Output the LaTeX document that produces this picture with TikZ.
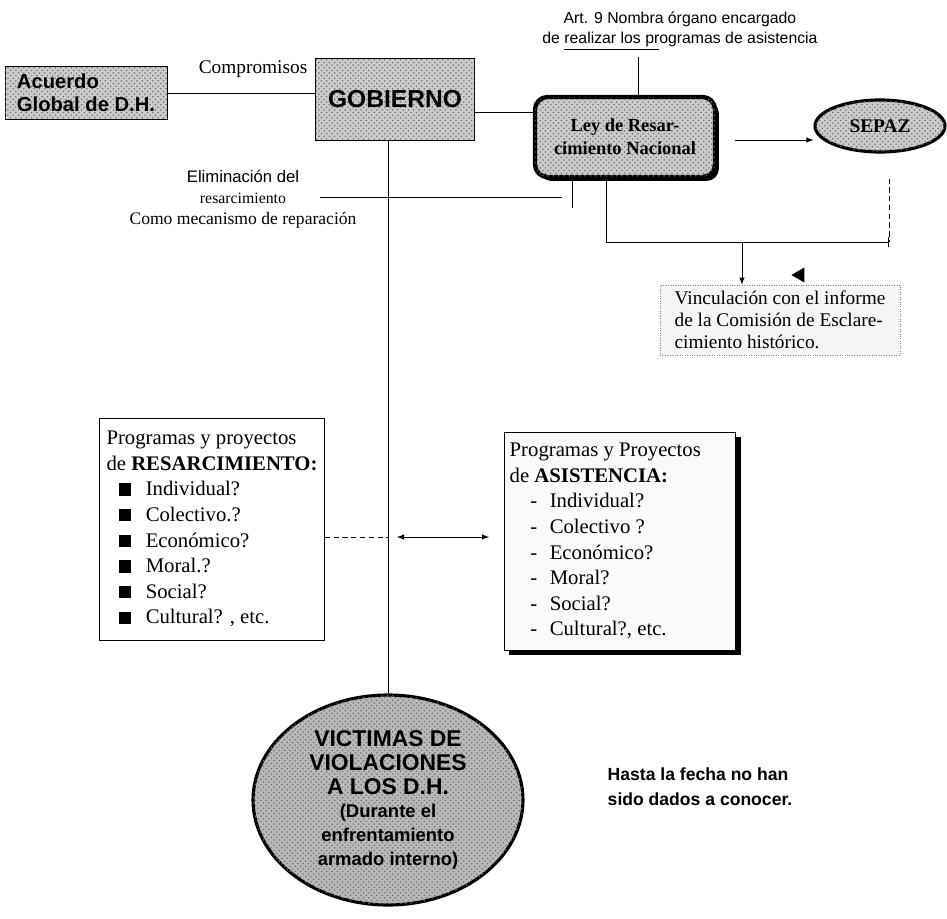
\documentclass[tikz,border=0pt]{standalone}
\usepackage{fontspec}
\setmainfont{Liberation Serif}
\setsansfont{Liberation Sans}
\usepackage{tikz}
\usetikzlibrary{shapes.geometric,shadows,patterns}

\begin{document}
\begin{tikzpicture}[x=0.02cm, y=-0.02cm,
shade_style/.style={draw=black, fill=gray!40, postaction={pattern=crosshatch dots, pattern color=black!55}, font=\sffamily\bfseries},
box_style/.style={draw=black, fill=white, align=left, inner sep=3pt, font=\fontsize{11.8}{14.6}\selectfont},
edge_style/.style={draw=black, thin},
arrow_style/.style={draw=black, thin, ->, >=latex}]
\useasboundingbox (0,0) rectangle (947,919);

\node[shade_style, minimum width=3.24cm, minimum height=1.06cm, align=left, font=\sffamily\bfseries\fontsize{11.5}{13}\selectfont] (acuerdo) at (86,93) {Acuerdo\\Global de D.H.};
\node[shade_style, minimum width=3.18cm, minimum height=1.64cm, font=\sffamily\bfseries\fontsize{14}{16}\selectfont] (gobierno) at (395,99) {GOBIERNO};
\node[shade_style, rounded corners=0.25cm, line width=2.5pt, minimum width=3.6cm, minimum height=1.6cm, align=center, font=\rmfamily\bfseries\fontsize{10.5}{13}\selectfont, drop shadow={fill=black, opacity=1, shadow xshift=0.08cm, shadow yshift=-0.08cm}] (ley) at (625,137) {Ley de Resar-\\cimiento Nacional};
\node[shade_style, ellipse, line width=1.8pt, minimum width=2.6cm, minimum height=1.04cm, font=\rmfamily\bfseries\fontsize{11}{12}\selectfont] (sepaz) at (880,126) {SEPAZ};
\node[align=center, font=\sffamily\fontsize{9}{11.5}\selectfont] (art) at (680,31) {Art. 9 Nombra órgano encargado\\de \underline{realizar los pr}ogramas de asistencia};
\node[align=center, inner sep=1pt] (elim) at (243,199) {{\sffamily\fontsize{9.5}{11}\selectfont Eliminación del}\\{\fontsize{9}{10}\selectfont resarcimiento}\\{\fontsize{10}{11}\selectfont Como mecanismo de reparación}};
\node[draw=gray, densely dotted, fill=gray!8, minimum width=4.8cm, minimum height=1.4cm, align=left, font=\fontsize{11}{12.5}\selectfont] (vinc) at (780,320) {Vinculación con el informe\\de la Comisión de Esclare-\\cimiento histórico.};
\node[isosceles triangle, isosceles triangle apex angle=60, shape border rotate=180, fill=black, inner sep=0pt, minimum size=0.26cm] (tip) at (800,275) {};
\node[box_style, minimum width=4.5cm, minimum height=4.44cm] (resar) at (212,529) {Programas y proyectos\\de \textbf{RESARCIMIENTO:}\\
\hspace*{0.6em}\rule{7pt}{7pt}\hspace{0.7em}Individual?\\
\hspace*{0.6em}\rule{7pt}{7pt}\hspace{0.7em}Colectivo.?\\
\hspace*{0.6em}\rule{7pt}{7pt}\hspace{0.7em}Económico?\\
\hspace*{0.6em}\rule{7pt}{7pt}\hspace{0.7em}Moral.?\\
\hspace*{0.6em}\rule{7pt}{7pt}\hspace{0.7em}Social?\\
\hspace*{0.6em}\rule{7pt}{7pt}\hspace{0.7em}Cultural? , etc.};
\node[box_style, fill=gray!4, minimum width=4.4cm, minimum height=4.36cm, drop shadow={fill=black, opacity=1, shadow xshift=0.1cm, shadow yshift=-0.1cm}] (asis) at (620,541) {Programas y Proyectos\\de \textbf{ASISTENCIA:}\hspace{3em}\mbox{}\\
\hspace*{1em}-\hspace{0.6em}Individual?\\
\hspace*{1em}-\hspace{0.6em}Colectivo ?\\
\hspace*{1em}-\hspace{0.6em}Económico?\\
\hspace*{1em}-\hspace{0.6em}Moral?\\
\hspace*{1em}-\hspace{0.6em}Social?\\
\hspace*{1em}-\hspace{0.6em}Cultural?, etc.};
\node[shade_style, ellipse, fill=gray!55, line width=1.8pt, minimum width=5.4cm, minimum height=4.2cm, align=center, inner sep=0pt, font=\sffamily\bfseries\fontsize{13}{13.5}\selectfont] (victimas) at (388,800) {VICTIMAS DE\\VIOLACIONES\\A LOS D.H.\\{\fontsize{10.5}{11.5}\selectfont (Durante el}\\{\fontsize{10.5}{11.5}\selectfont enfrentamiento}\\{\fontsize{10.5}{11.5}\selectfont armado interno)}};
\node[align=left, font=\sffamily\bfseries\fontsize{10}{14}\selectfont] (hasta) at (700,787) {Hasta la fecha no han\\sido dados a conocer.};

\coordinate (rend) at (889,242);
\coordinate (drop) at (742,242);
\coordinate (cut) at (572,208);
\coordinate (hl) at (320,197);
\coordinate (dl) at (397,537);

\draw[edge_style] (acuerdo.east) -- node[above=0.18cm, pos=0.58, font=\fontsize{11}{12}\selectfont] (comp) {Compromisos} (acuerdo.east -| gobierno.west);
\draw[edge_style] ([yshift=-0.26cm]gobierno.east) -- ([yshift=-0.26cm]gobierno.east -| ley.west);
\draw[edge_style] ([xshift=0.26cm]ley.north) -- ([xshift=0.26cm]ley.north |- art.south);
\draw[arrow_style] ([xshift=0.36cm, yshift=-0.06cm]ley.east) -- ([yshift=-0.06cm]ley.east -| sepaz.west);
\draw[edge_style, -|] ([xshift=-0.38cm]ley.south) |- (rend);
\draw[edge_style, densely dashed, shorten <=0.5cm] (sepaz.south -| rend) -- (rend);
\draw[arrow_style] (drop) -- (drop |- vinc.north);
\draw[edge_style] (cut |- ley.south) -- (cut);
\draw[edge_style, shorten >=0.2cm] (hl) -- (hl -| cut);
\draw[edge_style] (victimas.north |- gobierno.south) -- (victimas.north);
\draw[edge_style, densely dashed] (resar.east |- dl) -- (dl -| victimas.north);
\draw[arrow_style, <->] (dl) -- ([xshift=-0.3cm]dl -| asis.west);
\end{tikzpicture}
\end{document}
